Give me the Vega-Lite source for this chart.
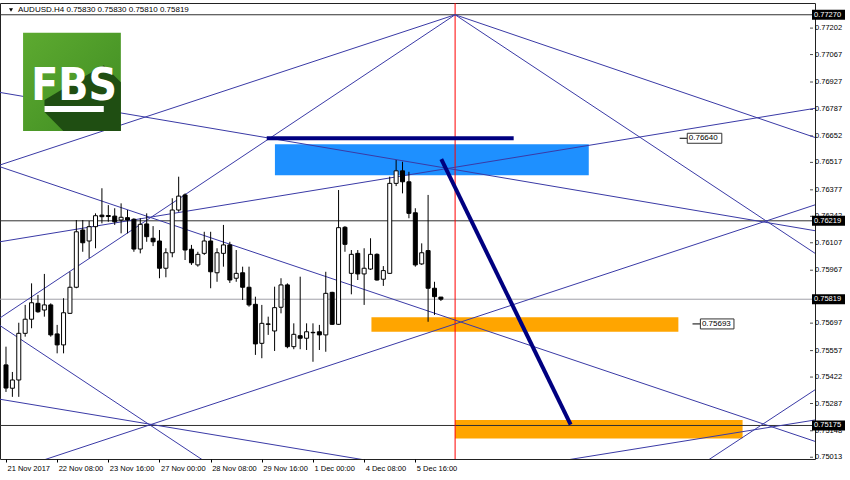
{
  "$schema": "https://vega.github.io/schema/vega-lite/v6.json",
  "width": 815,
  "height": 456,
  "autosize": {"type": "none"},
  "padding": {"left": 0, "top": 3, "right": 35, "bottom": 21},
  "background": "white",
  "config": {"view": {"stroke": "#222", "strokeWidth": 1}, "font": "Liberation Sans", "axis": {"labelOverlap": false, "labelBound": false}},
  "datasets": {
    "bands": [
      {"x0": 42.05, "x1": 91.12, "p0": 0.76452, "p1": 0.76609, "kind": "resistance"},
      {"x0": 57.14, "x1": 105.13, "p0": 0.75653, "p1": 0.75727, "kind": "support"},
      {"x0": 70.22, "x1": 115.17, "p0": 0.75108, "p1": 0.75203, "kind": "support"}
    ],
    "levels": [
      {"p": 0.7727, "kind": "level"},
      {"p": 0.76219, "kind": "level"},
      {"p": 0.75819, "kind": "bid"},
      {"p": 0.75175, "kind": "level"}
    ],
    "ticksY": [
      {"p": 0.77202}, {"p": 0.77067}, {"p": 0.76927}, {"p": 0.76787}, {"p": 0.76652}, {"p": 0.76517},
      {"p": 0.76377}, {"p": 0.76242}, {"p": 0.76107}, {"p": 0.75967}, {"p": 0.75697}, {"p": 0.75557},
      {"p": 0.75422}, {"p": 0.75287}, {"p": 0.75148}, {"p": 0.75013}
    ],
    "vline": [{"t": 70.22}],
    "fan": [
      {"id": "a", "x": -7.88, "p": 0.76429}, {"id": "a", "x": 70.22, "p": 0.7727},
      {"id": "b", "x": -1.7, "p": 0.75707}, {"id": "b", "x": 70.22, "p": 0.7727},
      {"id": "c", "x": 70.22, "p": 0.7727}, {"id": "c", "x": 128.03, "p": 0.76627},
      {"id": "d", "x": 70.22, "p": 0.7727}, {"id": "d", "x": 128.03, "p": 0.7602},
      {"id": "e", "x": -1.7, "p": 0.76878}, {"id": "e", "x": 128.03, "p": 0.7616},
      {"id": "f", "x": -1.7, "p": 0.76108}, {"id": "f", "x": 128.03, "p": 0.76801},
      {"id": "g", "x": -1.7, "p": 0.76503}, {"id": "g", "x": 128.03, "p": 0.75077},
      {"id": "h", "x": 2.93, "p": 0.74967}, {"id": "h", "x": 128.03, "p": 0.76317},
      {"id": "i", "x": -1.7, "p": 0.75313}, {"id": "i", "x": 58.53, "p": 0.74986},
      {"id": "j", "x": -1.7, "p": 0.75701}, {"id": "j", "x": 32.28, "p": 0.74966},
      {"id": "k", "x": 86.33, "p": 0.74992}, {"id": "k", "x": 128.03, "p": 0.75211},
      {"id": "l", "x": 107.95, "p": 0.74959}, {"id": "l", "x": 128.03, "p": 0.7539}
    ],
    "candles": [
      {"i": 0, "o": 0.75484, "h": 0.75577, "l": 0.75346, "c": 0.75366},
      {"i": 1, "o": 0.75365, "h": 0.75448, "l": 0.75321, "c": 0.75407},
      {"i": 2, "o": 0.75407, "h": 0.75699, "l": 0.75321, "c": 0.75645},
      {"i": 3, "o": 0.75645, "h": 0.7579, "l": 0.75628, "c": 0.75717},
      {"i": 4, "o": 0.75717, "h": 0.759, "l": 0.75671, "c": 0.75801},
      {"i": 5, "o": 0.75798, "h": 0.75841, "l": 0.7575, "c": 0.75755},
      {"i": 6, "o": 0.75764, "h": 0.75948, "l": 0.7573, "c": 0.7579},
      {"i": 7, "o": 0.7579, "h": 0.75798, "l": 0.75628, "c": 0.75637},
      {"i": 8, "o": 0.75642, "h": 0.75688, "l": 0.75543, "c": 0.75586},
      {"i": 9, "o": 0.75586, "h": 0.75824, "l": 0.75543, "c": 0.7575},
      {"i": 10, "o": 0.75747, "h": 0.75959, "l": 0.75744, "c": 0.7588},
      {"i": 11, "o": 0.7588, "h": 0.76223, "l": 0.75875, "c": 0.76163},
      {"i": 12, "o": 0.76172, "h": 0.76223, "l": 0.76061, "c": 0.76107},
      {"i": 13, "o": 0.76116, "h": 0.76219, "l": 0.76028, "c": 0.76189},
      {"i": 14, "o": 0.76189, "h": 0.76257, "l": 0.76079, "c": 0.76245},
      {"i": 15, "o": 0.76248, "h": 0.76385, "l": 0.76206, "c": 0.7624},
      {"i": 16, "o": 0.76246, "h": 0.76299, "l": 0.76214, "c": 0.76241},
      {"i": 17, "o": 0.76243, "h": 0.76283, "l": 0.76198, "c": 0.76214},
      {"i": 18, "o": 0.76223, "h": 0.76308, "l": 0.76155, "c": 0.76237},
      {"i": 19, "o": 0.76235, "h": 0.76274, "l": 0.76155, "c": 0.76223},
      {"i": 20, "o": 0.76227, "h": 0.76232, "l": 0.76061, "c": 0.76075},
      {"i": 21, "o": 0.76075, "h": 0.76232, "l": 0.76053, "c": 0.76201},
      {"i": 22, "o": 0.76203, "h": 0.76257, "l": 0.76112, "c": 0.76138},
      {"i": 23, "o": 0.7613, "h": 0.76192, "l": 0.7609, "c": 0.76112},
      {"i": 24, "o": 0.76116, "h": 0.76172, "l": 0.75926, "c": 0.75977},
      {"i": 25, "o": 0.75977, "h": 0.76079, "l": 0.75931, "c": 0.76056},
      {"i": 26, "o": 0.76056, "h": 0.76334, "l": 0.76033, "c": 0.76274},
      {"i": 27, "o": 0.76274, "h": 0.76444, "l": 0.76265, "c": 0.76345},
      {"i": 28, "o": 0.76351, "h": 0.76359, "l": 0.76019, "c": 0.7607},
      {"i": 29, "o": 0.76074, "h": 0.76096, "l": 0.75994, "c": 0.76005},
      {"i": 30, "o": 0.75994, "h": 0.76061, "l": 0.75985, "c": 0.76048},
      {"i": 31, "o": 0.76053, "h": 0.76163, "l": 0.76045, "c": 0.76116},
      {"i": 32, "o": 0.76116, "h": 0.76163, "l": 0.75875, "c": 0.75959},
      {"i": 33, "o": 0.75954, "h": 0.76079, "l": 0.75908, "c": 0.76056},
      {"i": 34, "o": 0.76053, "h": 0.76198, "l": 0.75985, "c": 0.76096},
      {"i": 35, "o": 0.76096, "h": 0.76112, "l": 0.75902, "c": 0.75917},
      {"i": 36, "o": 0.75926, "h": 0.7607, "l": 0.75908, "c": 0.75951},
      {"i": 37, "o": 0.75954, "h": 0.75985, "l": 0.75815, "c": 0.7588},
      {"i": 38, "o": 0.7588, "h": 0.75985, "l": 0.75781, "c": 0.7579},
      {"i": 39, "o": 0.75793, "h": 0.75832, "l": 0.75535, "c": 0.75591},
      {"i": 40, "o": 0.75594, "h": 0.7579, "l": 0.75518, "c": 0.75696},
      {"i": 41, "o": 0.75693, "h": 0.7573, "l": 0.75637, "c": 0.75691},
      {"i": 42, "o": 0.75657, "h": 0.75883, "l": 0.75555, "c": 0.75776},
      {"i": 43, "o": 0.75778, "h": 0.75926, "l": 0.75747, "c": 0.75892},
      {"i": 44, "o": 0.75892, "h": 0.759, "l": 0.75569, "c": 0.75577},
      {"i": 45, "o": 0.75577, "h": 0.75696, "l": 0.75564, "c": 0.7564},
      {"i": 46, "o": 0.75633, "h": 0.75934, "l": 0.75564, "c": 0.7562},
      {"i": 47, "o": 0.7562, "h": 0.75696, "l": 0.7556, "c": 0.75653},
      {"i": 48, "o": 0.7565, "h": 0.75696, "l": 0.755, "c": 0.75648},
      {"i": 49, "o": 0.75653, "h": 0.75688, "l": 0.7556, "c": 0.75637},
      {"i": 50, "o": 0.75637, "h": 0.75959, "l": 0.75551, "c": 0.75849},
      {"i": 51, "o": 0.75854, "h": 0.75857, "l": 0.75688, "c": 0.75691},
      {"i": 52, "o": 0.75691, "h": 0.76376, "l": 0.75688, "c": 0.76184},
      {"i": 53, "o": 0.76186, "h": 0.76192, "l": 0.76061, "c": 0.76099},
      {"i": 54, "o": 0.75951, "h": 0.7607, "l": 0.75844, "c": 0.76048},
      {"i": 55, "o": 0.76053, "h": 0.7607, "l": 0.75917, "c": 0.75948},
      {"i": 56, "o": 0.75948, "h": 0.76079, "l": 0.7579, "c": 0.75977},
      {"i": 57, "o": 0.75973, "h": 0.7613, "l": 0.75968, "c": 0.76048},
      {"i": 58, "o": 0.76048, "h": 0.76053, "l": 0.75914, "c": 0.75917},
      {"i": 59, "o": 0.75921, "h": 0.75988, "l": 0.75887, "c": 0.75965},
      {"i": 60, "o": 0.75951, "h": 0.76444, "l": 0.75948, "c": 0.7641},
      {"i": 61, "o": 0.7641, "h": 0.76529, "l": 0.76396, "c": 0.76474},
      {"i": 62, "o": 0.76474, "h": 0.7652, "l": 0.76359, "c": 0.76418},
      {"i": 63, "o": 0.76418, "h": 0.76469, "l": 0.76232, "c": 0.76257},
      {"i": 64, "o": 0.7626, "h": 0.76283, "l": 0.75985, "c": 0.75994},
      {"i": 65, "o": 0.75999, "h": 0.76104, "l": 0.75994, "c": 0.76056},
      {"i": 66, "o": 0.76067, "h": 0.76351, "l": 0.75704, "c": 0.75875},
      {"i": 67, "o": 0.75875, "h": 0.75908, "l": 0.75739, "c": 0.75832},
      {"i": 68, "o": 0.7583, "h": 0.7583, "l": 0.7581, "c": 0.75819}
    ],
    "trend": [
      {"id": "top", "x": 40.77, "p": 0.7664}, {"id": "top", "x": 79.38, "p": 0.7664},
      {"id": "drop", "x": 68.06, "p": 0.76533}, {"id": "drop", "x": 88.29, "p": 0.75179}
    ],
    "tags": [
      {"p": 0.7664, "d0": 105.33, "x0": 106.52, "x1": 111.92},
      {"p": 0.75693, "d0": 107.34, "x0": 108.57, "x1": 113.82}
    ],
    "logo": [{"x0": 2.67, "x1": 17.96, "p0": 0.76677, "p1": 0.77178}],
    "logoShadow": [
      {"x": 6.02, "top": 0.76835, "bottom": 0.76774},
      {"x": 8.96, "top": 0.76892, "bottom": 0.76677},
      {"x": 15.29, "top": 0.77013, "bottom": 0.76677},
      {"x": 17.96, "top": 0.76926, "bottom": 0.76677}
    ],
    "logoBar": [{"x0": 6.02, "x1": 15.29, "p0": 0.76774, "p1": 0.76804}],
    "logoText": [{"x": 10.66, "p": 0.76835, "label": "FBS"}],
    "title": [{"label": "AUDUSD.H4  0.75830 0.75830 0.75810 0.75819"}]
  },
  "layer": [
    {
      "data": {"name": "bands"},
      "mark": {"type": "rect", "clip": true},
      "encoding": {
        "x": {
          "field": "x0", "type": "quantitative",
          "scale": {"domain": [-0.154, 125.71], "nice": false, "zero": false},
          "axis": {
            "orient": "bottom", "title": null, "grid": false, "domain": false,
            "values": [0, 8, 16, 24, 32, 40, 48, 56, 64],
            "labelExpr": "['21 Nov 2017','22 Nov 08:00','23 Nov 16:00','27 Nov 00:00','28 Nov 08:00','29 Nov 16:00','1 Dec 00:00','4 Dec 08:00','5 Dec 16:00'][round(datum.value/8)]",
            "labelAlign": "left", "labelOffset": 1, "labelPadding": 2, "tickSize": 3,
            "tickColor": "#000", "labelColor": "#000", "labelFontSize": 7.5,
            "labelFont": "Liberation Sans", "labelOverlap": false, "labelFlush": false
          }
        },
        "x2": {"field": "x1"},
        "y": {
          "field": "p0", "type": "quantitative",
          "scale": {"domain": [0.75004, 0.7733], "nice": false, "zero": false},
          "axis": null
        },
        "y2": {"field": "p1"},
        "color": {"condition": {"test": "datum.kind === 'resistance'", "value": "#1E90FF"}, "value": "#FFA500"}
      }
    },
    {
      "data": {"name": "ticksY"},
      "mark": {"type": "tick", "orient": "horizontal", "color": "#000", "size": 3, "thickness": 1, "xOffset": 1.5},
      "encoding": {
        "x": {"datum": 125.71, "type": "quantitative"},
        "y": {"field": "p", "type": "quantitative"}
      }
    },
    {
      "data": {"name": "ticksY"},
      "mark": {"type": "text", "align": "left", "baseline": "middle", "dx": 5, "fontSize": 7.5, "font": "Liberation Sans", "color": "#000"},
      "encoding": {
        "x": {"datum": 125.71, "type": "quantitative"},
        "y": {"field": "p", "type": "quantitative"},
        "text": {"field": "p", "format": ".5f"}
      }
    },
    {
      "data": {"name": "levels"},
      "mark": {"type": "rule", "strokeWidth": 1},
      "encoding": {
        "y": {"field": "p", "type": "quantitative"},
        "color": {"condition": {"test": "datum.kind === 'bid'", "value": "#A0A0A8"}, "value": "#303030"}
      }
    },
    {
      "data": {"name": "vline"},
      "mark": {"type": "rule", "color": "#FF0000", "strokeWidth": 1},
      "encoding": {"x": {"field": "t", "type": "quantitative"}}
    },
    {
      "data": {"name": "fan"},
      "mark": {"type": "line", "clip": true, "color": "#3A3AA6", "strokeWidth": 1},
      "encoding": {
        "x": {"field": "x", "type": "quantitative"},
        "y": {"field": "p", "type": "quantitative"},
        "detail": {"field": "id"}
      }
    },
    {
      "data": {"name": "candles"},
      "mark": {"type": "rule", "color": "#000", "strokeWidth": 1},
      "encoding": {
        "x": {"field": "i", "type": "quantitative"},
        "y": {"field": "l", "type": "quantitative"},
        "y2": {"field": "h"}
      }
    },
    {
      "data": {"name": "candles"},
      "mark": {"type": "bar", "size": 4, "stroke": "#000", "strokeWidth": 1},
      "encoding": {
        "x": {"field": "i", "type": "quantitative"},
        "y": {"field": "o", "type": "quantitative"},
        "y2": {"field": "c"},
        "fill": {"condition": {"test": "datum.c >= datum.o", "value": "#FFFFFF"}, "value": "#000000"}
      }
    },
    {
      "data": {"name": "trend"},
      "mark": {"type": "line", "color": "#000080", "strokeWidth": 4},
      "encoding": {
        "x": {"field": "x", "type": "quantitative"},
        "y": {"field": "p", "type": "quantitative"},
        "detail": {"field": "id"}
      }
    },
    {
      "data": {"name": "tags"},
      "mark": {"type": "rule", "color": "#000", "strokeWidth": 1},
      "encoding": {
        "x": {"field": "d0", "type": "quantitative"},
        "x2": {"field": "x0"},
        "y": {"field": "p", "type": "quantitative"}
      }
    },
    {
      "data": {"name": "tags"},
      "mark": {"type": "rect", "fill": "#FFFFFF", "stroke": "#333", "strokeWidth": 1, "yOffset": -5, "y2Offset": 5},
      "encoding": {
        "x": {"field": "x0", "type": "quantitative"},
        "x2": {"field": "x1"},
        "y": {"field": "p", "type": "quantitative"},
        "y2": {"field": "p"}
      }
    },
    {
      "data": {"name": "tags"},
      "mark": {"type": "text", "align": "left", "baseline": "middle", "dx": 1.5, "fontSize": 8, "font": "Liberation Sans", "color": "#000"},
      "encoding": {
        "x": {"field": "x0", "type": "quantitative"},
        "y": {"field": "p", "type": "quantitative"},
        "text": {"field": "p", "format": ".5f"}
      }
    },
    {
      "data": {"name": "logo"},
      "mark": {"type": "rect", "color": {"gradient": "linear", "x1": 0, "y1": 0, "x2": 1, "y2": 1, "stops": [{"offset": 0, "color": "#5DAA30"}, {"offset": 1, "color": "#3F8C22"}]}},
      "encoding": {
        "x": {"field": "x0", "type": "quantitative"},
        "x2": {"field": "x1"},
        "y": {"field": "p0", "type": "quantitative"},
        "y2": {"field": "p1"}
      }
    },
    {
      "data": {"name": "logoShadow"},
      "mark": {"type": "area", "color": "#1F4E12"},
      "encoding": {
        "x": {"field": "x", "type": "quantitative"},
        "y": {"field": "top", "type": "quantitative"},
        "y2": {"field": "bottom"}
      }
    },
    {
      "data": {"name": "logoBar"},
      "mark": {"type": "rect", "color": "#FFFFFF"},
      "encoding": {
        "x": {"field": "x0", "type": "quantitative"},
        "x2": {"field": "x1"},
        "y": {"field": "p0", "type": "quantitative"},
        "y2": {"field": "p1"}
      }
    },
    {
      "data": {"name": "logoText"},
      "mark": {"type": "text", "align": "center", "baseline": "alphabetic", "fontSize": 44, "fontWeight": "bold", "font": "DejaVu Sans Condensed, Liberation Sans Narrow, Roboto", "color": "#FFFFFF"},
      "encoding": {
        "x": {"field": "x", "type": "quantitative"},
        "y": {"field": "p", "type": "quantitative"},
        "text": {"field": "label"}
      }
    },
    {
      "data": {"name": "title"},
      "mark": {"type": "point", "shape": "triangle-down", "filled": true, "color": "#000", "size": 16, "xOffset": 6, "yOffset": 7, "opacity": 1},
      "encoding": {
        "x": {"datum": -0.154, "type": "quantitative"},
        "y": {"datum": 0.7733, "type": "quantitative"}
      }
    },
    {
      "data": {"name": "title"},
      "mark": {"type": "text", "align": "left", "baseline": "middle", "dx": 13, "dy": 7, "fontSize": 8, "font": "Liberation Sans", "color": "#000"},
      "encoding": {
        "x": {"datum": -0.154, "type": "quantitative"},
        "y": {"datum": 0.7733, "type": "quantitative"},
        "text": {"field": "label"}
      }
    },
    {
      "data": {"name": "levels"},
      "mark": {"type": "rect", "color": "#000", "xOffset": 2, "x2Offset": 35, "yOffset": -5, "y2Offset": 5},
      "encoding": {
        "x": {"datum": 125.71, "type": "quantitative"},
        "x2": {"datum": 125.71},
        "y": {"field": "p", "type": "quantitative"},
        "y2": {"field": "p"}
      }
    },
    {
      "data": {"name": "levels"},
      "mark": {"type": "text", "align": "left", "baseline": "middle", "dx": 4, "fontSize": 7.5, "font": "Liberation Sans", "color": "#FFFFFF"},
      "encoding": {
        "x": {"datum": 125.71, "type": "quantitative"},
        "y": {"field": "p", "type": "quantitative"},
        "text": {"field": "p", "format": ".5f"}
      }
    }
  ]
}
